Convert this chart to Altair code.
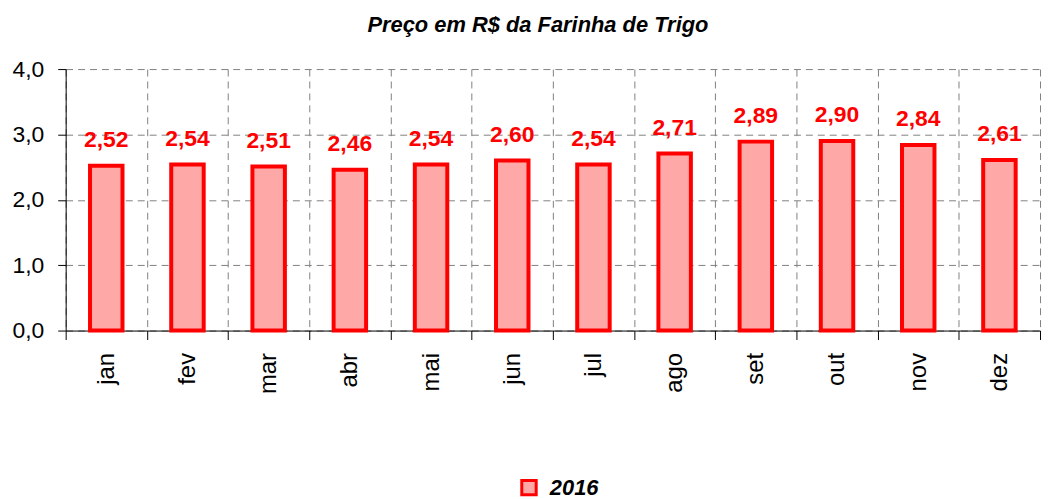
import altair as alt
import pandas as pd

months = ["jan", "fev", "mar", "abr", "mai", "jun", "jul", "ago", "set", "out", "nov", "dez"]
prices = [2.52, 2.54, 2.51, 2.46, 2.54, 2.60, 2.54, 2.71, 2.89, 2.90, 2.84, 2.61]
series = ["2016"] * len(months)
y_ticks = [0, 1, 2, 3, 4]

FONT = "Liberation Sans"

df = pd.DataFrame({"mes": months, "preco": prices, "serie": series})

base = alt.Chart(df).transform_calculate(
    label="replace(format(datum.preco, '.2f'), '.', ',')"
)

x_enc = alt.X(
    "mes:N",
    sort=months,
    title=None,
    scale=alt.Scale(paddingInner=0, paddingOuter=0),
    axis=alt.Axis(
        labelAngle=-90,
        labelFontSize=24,
        labelFont=FONT,
        labelColor="black",
        labelPadding=13,
        tickBand="extent",
        tickSize=9,
        tickColor="black",
        domainColor="black",
        grid=True,
        gridColor="#808080",
        gridDash=[7, 5],
        gridWidth=1,
    ),
)

y_enc = alt.Y(
    "preco:Q",
    title=None,
    scale=alt.Scale(domain=[0, 4], nice=False),
    axis=alt.Axis(
        values=y_ticks,
        labelExpr="replace(format(datum.value, '.1f'), '.', ',')",
        labelFontSize=23,
        labelFont=FONT,
        labelColor="black",
        labelPadding=14,
        tickSize=8,
        tickColor="black",
        domainColor="black",
        grid=True,
        gridColor="#808080",
        gridDash=[7, 5],
        gridWidth=1,
    ),
)

bars = base.mark_bar(width={"band": 0.4}, stroke="red", strokeWidth=4).encode(
    x=x_enc,
    y=y_enc,
    fill=alt.Fill(
        "serie:N",
        title=None,
        scale=alt.Scale(range=["#ffa8a8"]),
        legend=alt.Legend(
            orient="none",
            legendX=455,
            legendY=410,
            symbolType="square",
            symbolSize=210,
            symbolStrokeColor="red",
            symbolStrokeWidth=3,
            labelFont=FONT,
            labelFontSize=22,
            labelFontStyle="italic",
            labelFontWeight="bold",
            labelColor="black",
            labelOffset=10,
            padding=0,
        ),
    ),
)

labels = base.mark_text(
    dy=-19,
    fontSize=23,
    fontWeight="bold",
    color="red",
    font=FONT,
    baseline="alphabetic",
).encode(x=alt.X("mes:N", sort=months), y="preco:Q", text="label:N")

chart = (
    alt.layer(bars, labels)
    .properties(
        width=980,
        height=263,
        autosize=alt.AutoSizeParams(type="none"),
        padding={"left": 58, "top": 60, "right": 5, "bottom": 170},
        title=alt.TitleParams(
            "Preço em R$ da Farinha de Trigo",
            fontSize=22,
            fontStyle="italic",
            fontWeight="bold",
            font=FONT,
            color="black",
            anchor="middle",
            offset=21,
            dx=-15,
        ),
    )
    .configure_view(strokeWidth=0)
)

chart.save("out.html", embed_options={"renderer": "svg", "actions": False})
